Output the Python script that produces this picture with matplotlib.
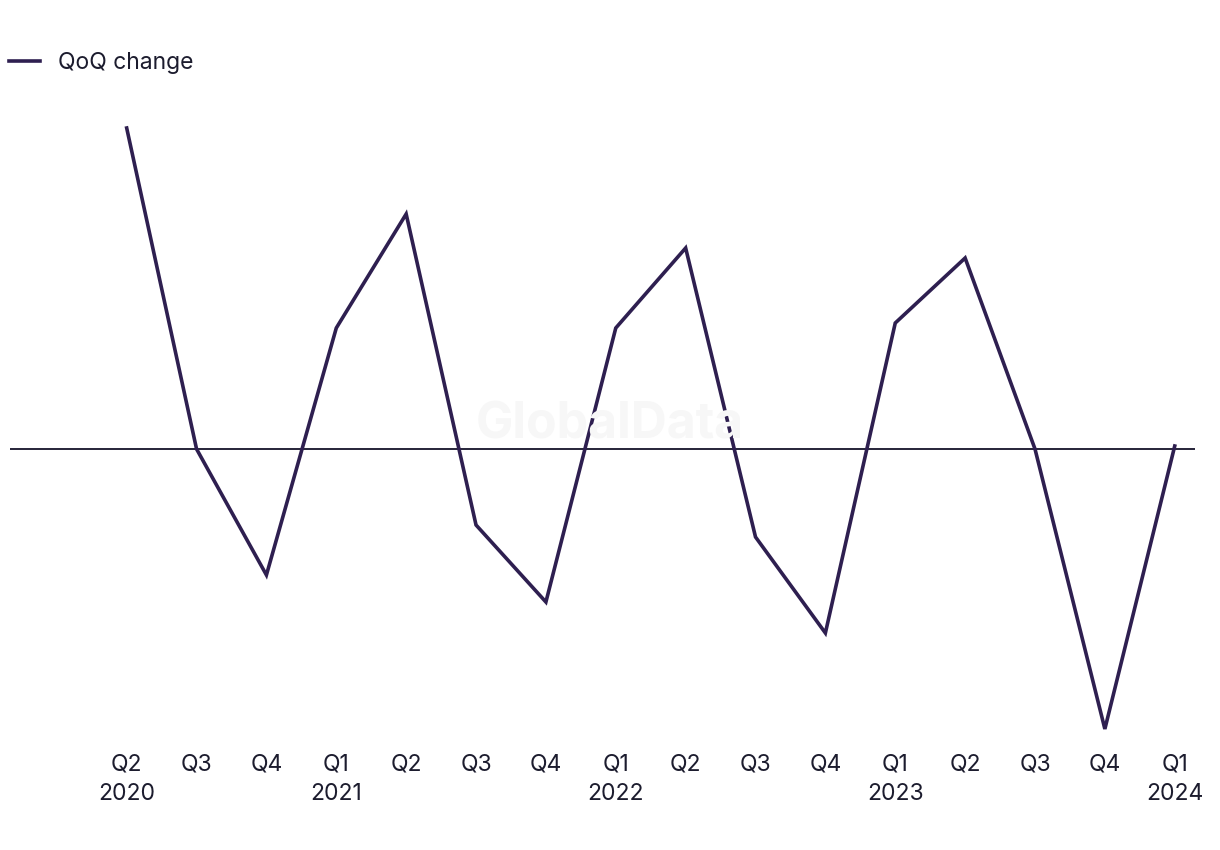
import matplotlib
matplotlib.use("Agg")
import matplotlib.pyplot as plt
import numpy as np

plt.rcParams['font.family'] = ['Inter', 'DejaVu Sans']

# quarter labels and QoQ change (arbitrary units)
quarters = ["Q2\n2020", "Q3", "Q4", "Q1\n2021", "Q2", "Q3", "Q4", "Q1\n2022",
            "Q2", "Q3", "Q4", "Q1\n2023", "Q2", "Q3", "Q4", "Q1\n2024"]
qoq_change = [32.1, 0.0, -12.6, 12.1, 23.5, -7.6, -15.3, 12.1,
              20.1, -8.8, -18.4, 12.6, 19.1, 0.0, -28.0, 0.3]

line_color = "#2e1f50"
text_color = "#1c1c2e"

W, H = 1220, 850
fig = plt.figure(figsize=(W / 100, H / 100), dpi=100)
ax = fig.add_axes([10 / W, 1 - 745 / H, 1185 / W, 645 / H])

x = np.arange(len(qoq_change))
ax.plot(x, qoq_change, color=line_color, lw=2.6, label="QoQ change",
        solid_joinstyle="miter", zorder=3)
ax.axhline(0, color="#15132a", lw=1.3, zorder=2)

ax.set_xlim(-1.67, 15.29)
ax.set_ylim(-29.6, 34.9)

ax.set_xticks(x)
ax.set_xticklabels(quarters, fontsize=16.5, color=text_color, linespacing=1.45)
ax.tick_params(axis="x", length=0, pad=6)
ax.set_yticks([])
for s in ax.spines.values():
    s.set_visible(False)

# watermark
fig.text(610 / W, 1 - 425 / H, "GlobalData", ha="center", va="center",
         fontsize=36, fontweight="bold", color="#f7f7f7", zorder=0)

fig.legend(loc="center left", bbox_to_anchor=(9 / W, 1 - 63 / H), frameon=False,
           fontsize=16.5, handlelength=1.35, handletextpad=0.8, borderpad=0,
           borderaxespad=0, labelcolor=text_color)

fig.savefig("out.png", dpi=100)
